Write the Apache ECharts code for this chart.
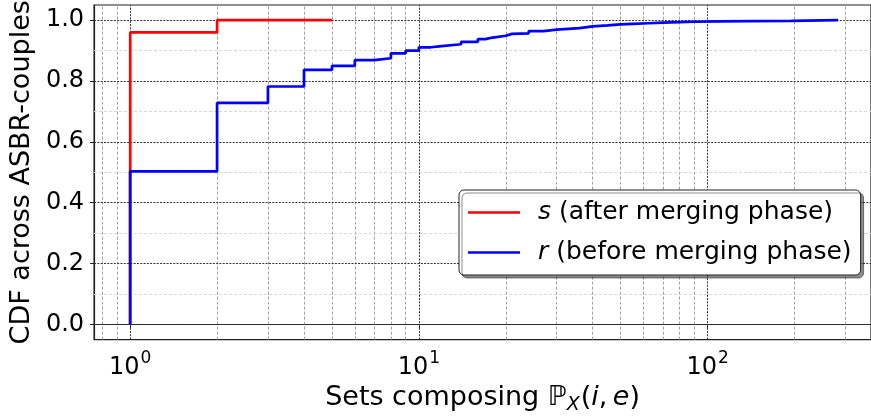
<!DOCTYPE html>
<html>
<head>
<meta charset="utf-8">
<script src="https://cdn.jsdelivr.net/npm/echarts@6/dist/echarts.min.js"></script>
<style>
html,body{margin:0;padding:0;background:#fff;}
#chart{width:871px;height:420px;}
</style>
</head>
<body>
<div id="chart"></div>
<script>
// ---- data ----
const redX  = [1, 1, 2, 5];
const redY  = [0, 0.96, 1.0, 1.0];
const blueX = [1, 1, 2, 3, 4, 5, 6, 7, 8, 9, 10, 11, 12, 14, 16, 17, 18, 20, 21, 24, 27, 30, 36, 40, 45, 50, 55, 62, 70, 80, 90, 110, 140, 195, 283];
const blueY = [0, 0.503, 0.728, 0.782, 0.837, 0.850, 0.869, 0.875, 0.891, 0.900, 0.911, 0.915, 0.921, 0.929, 0.938, 0.943, 0.949, 0.955, 0.957, 0.964, 0.969, 0.974, 0.980, 0.983, 0.986, 0.988, 0.990, 0.992, 0.994, 0.995, 0.996, 0.997, 0.998, 1.0, 1.0];
const xMajorTicks = [1, 10, 100];
const xMinorGrid = [0.8, 0.9, 2, 3, 4, 5, 6, 7, 8, 9, 20, 30, 40, 50, 60, 70, 80, 90, 200, 300];
const yMajorTicks = [0, 0.2, 0.4, 0.6, 0.8, 1.0];
const yMinorGrid = [0.1, 0.3, 0.5, 0.7, 0.9];
const redName = 's (after merging phase)';
const blueName = 'r (before merging phase)';

const FONT = 'DejaVu Sans';
const pairs = (xs, ys) => xs.map((x, i) => [x, ys[i]]);

const chart = echarts.init(document.getElementById('chart'), null, {renderer: 'canvas'});

const minorLines = [];
xMinorGrid.forEach(v => minorLines.push({xAxis: v, lineStyle: {color: '#a0a0a0', width: 1, type: [3, 2]}}));
yMinorGrid.forEach(v => minorLines.push({yAxis: v, lineStyle: {color: '#d8d8d8', width: 1, type: [3, 2]}}));
const majorLines = [];
xMajorTicks.forEach(v => majorLines.push({xAxis: v, lineStyle: {color: '#333', width: 1, type: [2, 1.3]}}));
yMajorTicks.forEach(v => majorLines.push({yAxis: v, lineStyle: {color: '#333', width: 1, type: [2, 1.3]}}));

const option = {
  animation: false,
  backgroundColor: '#fff',
  textStyle: {fontFamily: FONT},
  grid: {
    left: 93, top: 5, width: 780, height: 345,
    show: true, borderColor: '#222', borderWidth: 1.2, backgroundColor: 'transparent'
  },
  xAxis: {
    type: 'log', logBase: 10, min: 0.75, max: 368,
    axisLine: {show: true, lineStyle: {color: '#222', width: 1.2}},
    axisTick: {show: true, length: 4, lineStyle: {color: '#222'}},
    splitLine: {show: false},
    minorTick: {show: false},
    axisLabel: {
      margin: 10,
      showMinLabel: false, showMaxLabel: false,
      formatter: function (v) {
        const e = Math.round(Math.log10(v));
        if (Math.abs(v - Math.pow(10, e)) / Math.pow(10, e) < 1e-6 && xMajorTicks.indexOf(Math.pow(10, e)) >= 0) {
          return '{b|10}{s|' + e + '}';
        }
        return '';
      },
      rich: {
        b: {fontFamily: FONT, fontSize: 24, color: '#000', lineHeight: 30, verticalAlign: 'bottom'},
        s: {fontFamily: FONT, fontSize: 17, color: '#000', lineHeight: 30, verticalAlign: 'top', padding: [0, 0, 0, 1]}
      }
    },
    name: '{n|Sets composing }{bb|ℙ}{sub|X}{n|(}{it|i}{n|,\u2009}{it|e}{n|)}',
    nameLocation: 'middle',
    nameGap: 36,
    nameTextStyle: {
      rich: {
        n: {fontFamily: FONT, fontSize: 27, color: '#000', lineHeight: 34, verticalAlign: 'middle'},
        bb: {fontFamily: FONT, fontSize: 27, color: '#000', lineHeight: 34, verticalAlign: 'middle'},
        it: {fontFamily: FONT, fontSize: 27, fontStyle: 'italic', color: '#000', lineHeight: 34, verticalAlign: 'middle'},
        sub: {fontFamily: FONT, fontSize: 19, fontStyle: 'italic', color: '#000', lineHeight: 34, verticalAlign: 'bottom', padding: [0, 1, 0, 0]}
      }
    }
  },
  yAxis: {
    type: 'value', min: -0.05, max: 1.05,
    axisLine: {show: true, lineStyle: {color: '#222', width: 1.2}},
    axisTick: {show: true, length: 4, lineStyle: {color: '#222'}},
    splitLine: {show: false},
    axisLabel: {
      margin: 10,
      showMinLabel: false, showMaxLabel: false,
      fontFamily: FONT, fontSize: 24, color: '#000',
      formatter: function (v) {
        for (const t of yMajorTicks) { if (Math.abs(v - t) < 1e-6) return t.toFixed(1); }
        return '';
      }
    },
    name: 'CDF across ASBR-couples',
    nameLocation: 'middle',
    nameGap: 56,
    nameTextStyle: {fontFamily: FONT, fontSize: 27, color: '#000'}
  },
  legend: {
    orient: 'vertical',
    left: 459, top: 190,
    padding: [10, 9, 10, 9],
    itemWidth: 52, itemHeight: 2.6, itemGap: 15,
    icon: 'rect',
    backgroundColor: '#fff',
    borderColor: '#222', borderWidth: 1, borderRadius: 5,
    shadowColor: 'rgba(0,0,0,0.45)', shadowOffsetX: 3, shadowOffsetY: 3, shadowBlur: 0,
    data: [redName, blueName],
    formatter: function (name) {
      const first = name.charAt(0);
      return '{i|' + first + '}{t|' + name.slice(1) + '}';
    },
    textStyle: {
      rich: {
        i: {fontFamily: FONT, fontSize: 25, fontStyle: 'italic', color: '#000', lineHeight: 30, padding: [0, 0, 0, 13]},
        t: {fontFamily: FONT, fontSize: 25, color: '#000', lineHeight: 30}
      }
    }
  },
  series: [
    {
      name: 'grid-minor', type: 'line', data: [], z: 1, silent: true,
      markLine: {z: 1, silent: true, symbol: ['none', 'none'], label: {show: false}, animation: false, data: minorLines}
    },
    {
      name: 'grid-major', type: 'line', data: [], z: 1, silent: true,
      markLine: {z: 1, silent: true, symbol: ['none', 'none'], label: {show: false}, animation: false, data: majorLines}
    },
    {
      name: redName, type: 'line', step: 'end', symbol: 'none', showSymbol: false, z: 3,
      data: pairs(redX, redY),
      color: '#ff0000',
      lineStyle: {color: '#ff0000', width: 2.7}
    },
    {
      name: blueName, type: 'line', step: 'end', symbol: 'none', showSymbol: false, z: 4,
      data: pairs(blueX, blueY),
      color: '#0000ff',
      lineStyle: {color: '#0000ff', width: 2.7}
    }
  ]
};
chart.setOption(option);
</script>
</body>
</html>
